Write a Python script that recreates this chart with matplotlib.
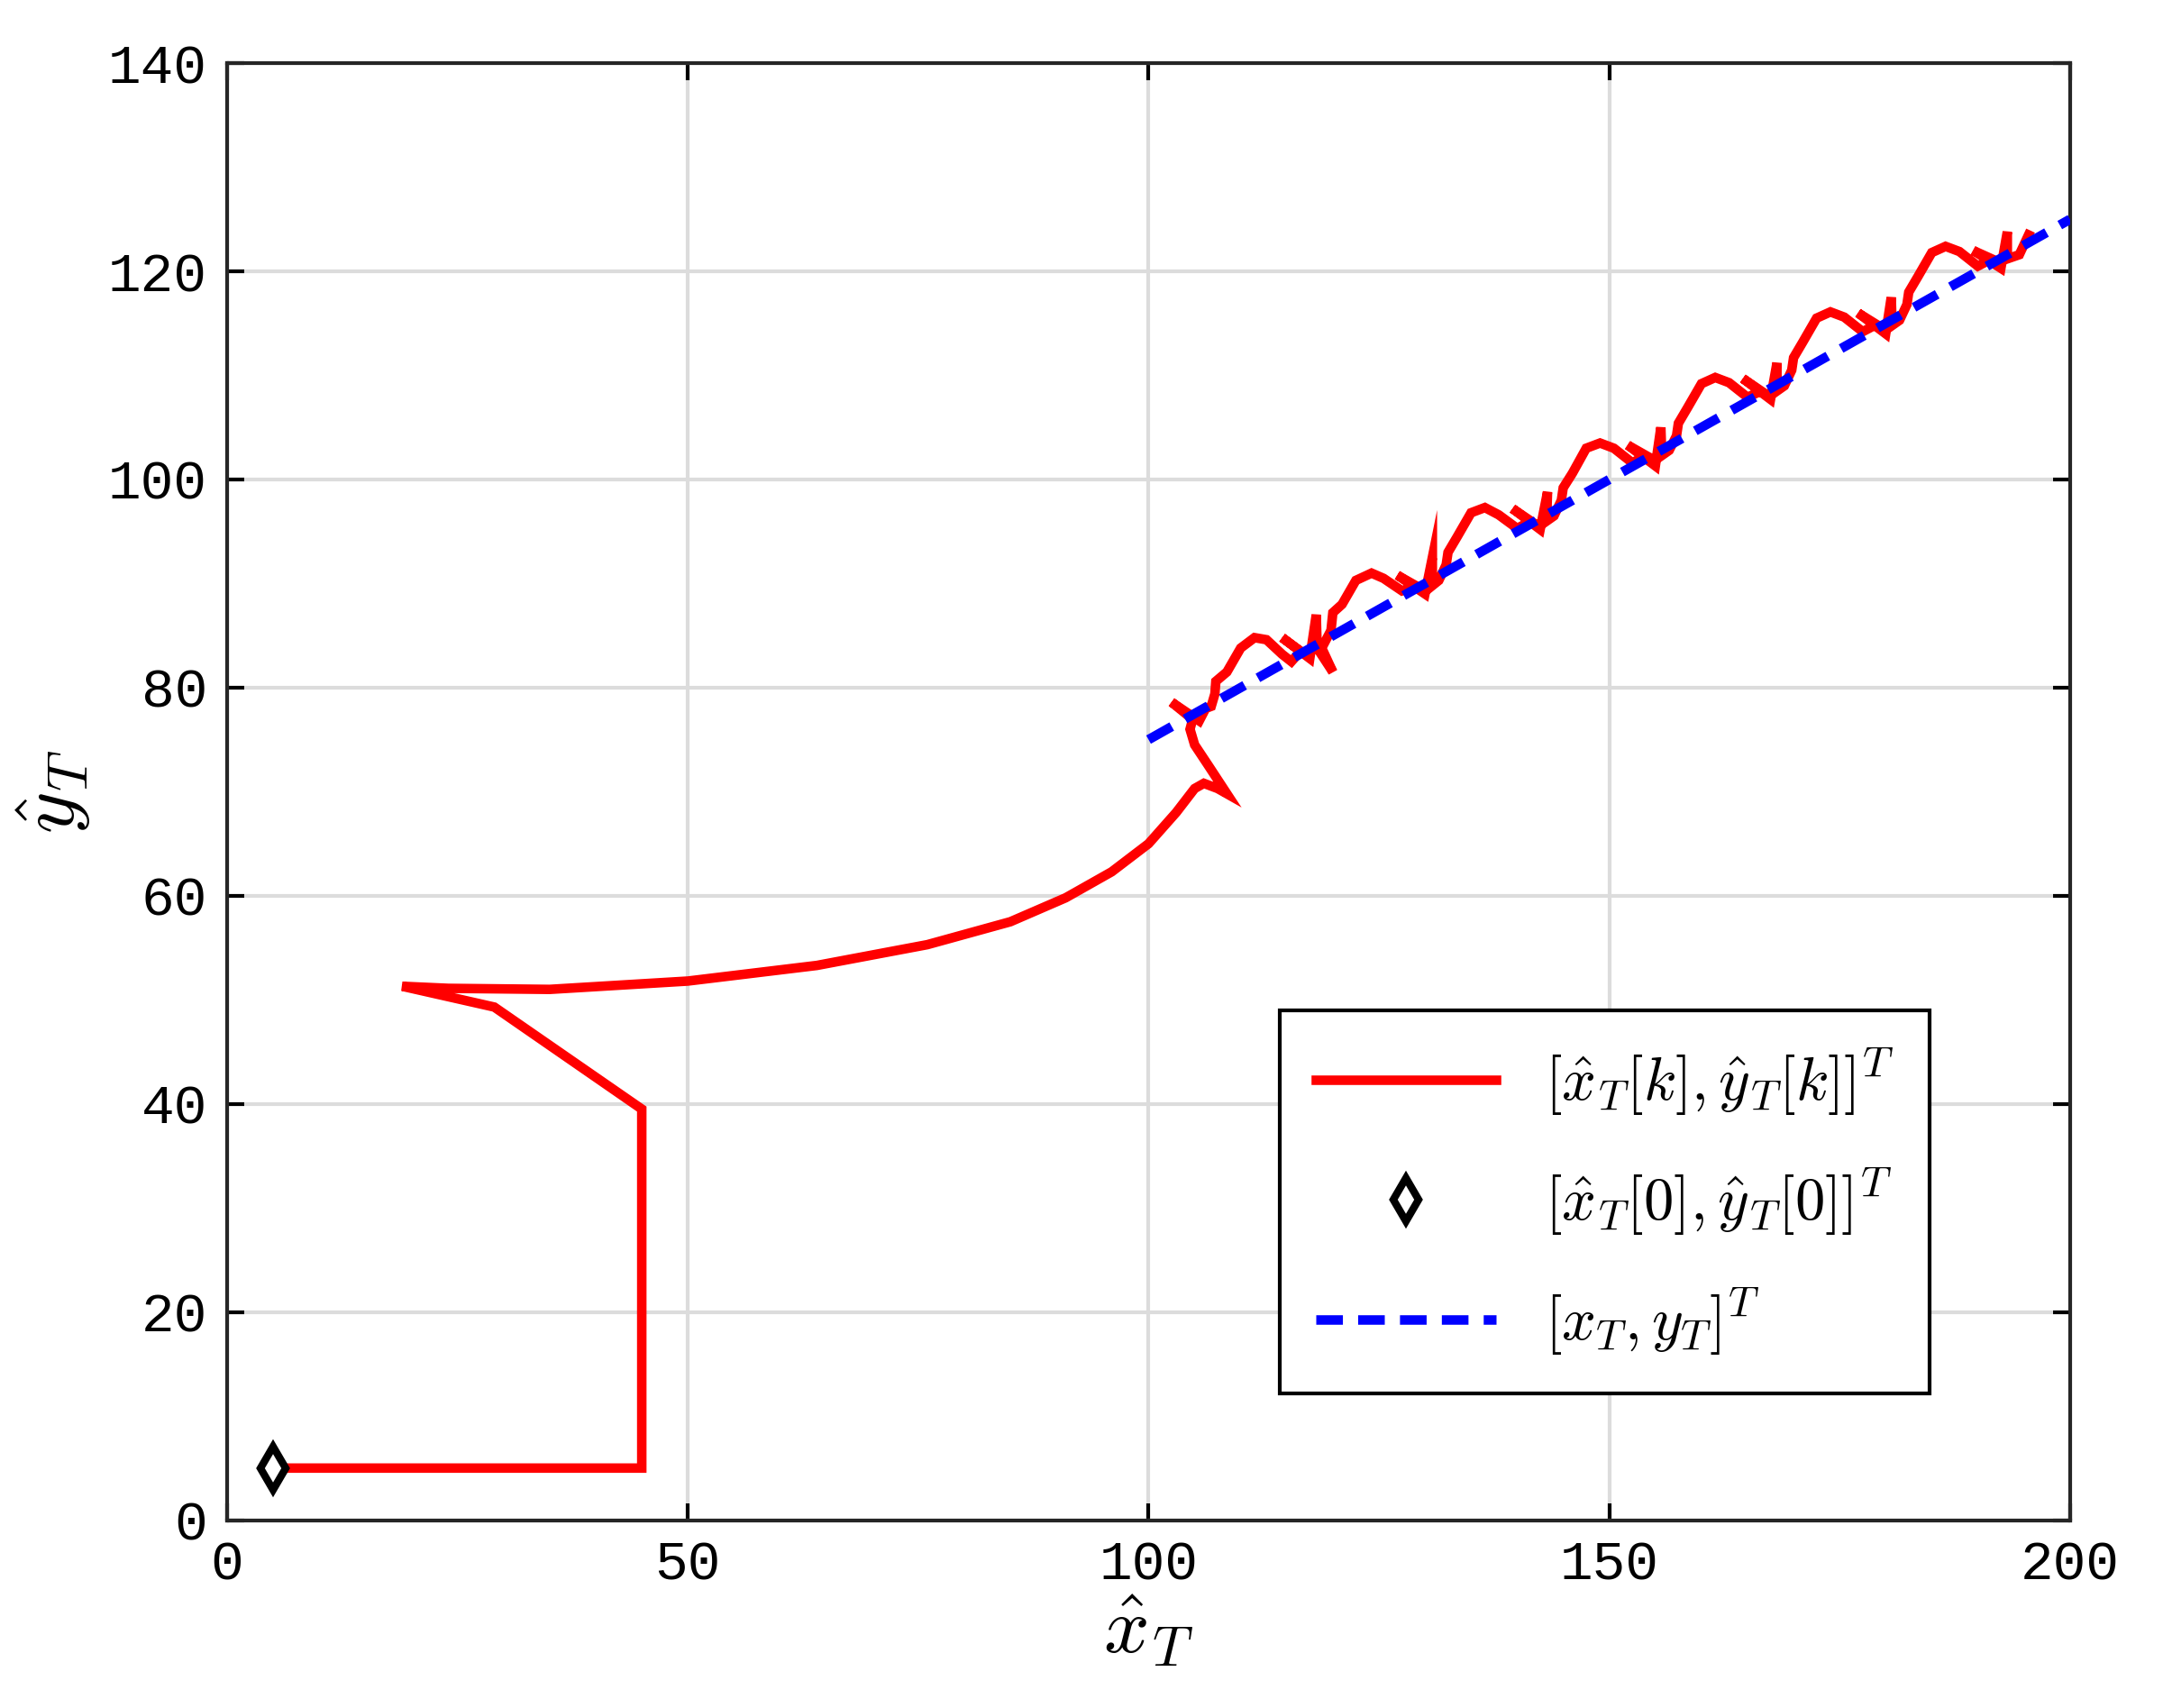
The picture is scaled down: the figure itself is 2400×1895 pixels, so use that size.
import matplotlib
matplotlib.use("Agg")
import matplotlib.pyplot as plt

plt.rcParams['mathtext.fontset'] = 'cm'

est_x = [5, 45, 45, 29, 19, 24, 35, 50, 64, 76, 85, 91, 96, 100, 103, 105, 106, 107.5, 108.5,
         106.5, 105, 104.5, 104.8,
         104.3, 102.5, 105.5, 106.2, 106.8, 107.2, 107.3, 108.5, 110, 111.5, 112.8, 114.5, 115.5,
         116.5, 114.5, 117.5, 118.2, 118.3, 120.0, 118.8, 119.8, 120.0, 121.0, 122.5, 124.2, 125.5, 127.5,
         129, 127, 130, 130.8, 130.8, 131.5, 132.3, 132.5, 133.5, 135, 136.5, 138, 140,
         141.5, 139.5, 142.5, 143.3, 143.2, 144, 144.8, 145, 146, 147.5, 149, 150.5, 152.5,
         154, 152, 155, 155.6, 155.7, 156.5, 157.3, 157.5, 158.5, 160, 161.5, 163, 165,
         166.5, 164.5, 167.5, 168.2, 168.2, 169, 169.8, 170, 171, 172.5, 174, 175.5, 177.5,
         179, 177, 180, 180.6, 180.7, 181.5, 182.3, 182.5, 183.5, 185, 186.5, 188, 190,
         191.5, 189.5, 192.5, 193.2, 193.2, 194.5, 195.5]
est_y = [5, 5, 39.5, 49.3, 51.3, 51.1, 51.0, 51.8, 53.3, 55.3, 57.5, 59.8, 62.3, 65, 68, 70.3, 70.8, 70.3, 69.8,
         72.5, 74.5, 76.0, 77.0,
         77.3, 78.6, 76.8, 78.0, 78.2, 79.4, 80.6, 81.5, 83.8, 84.8, 84.6, 83.2, 82.5,
         83.5, 84.8, 82.8, 87.0, 83.8, 81.5, 83.8, 85.5, 87.2, 88.0, 90.3, 91.0, 90.5, 89.3,
         89.8, 90.8, 89.0, 92.5, 89.8, 90.3, 91.8, 93.0, 94.5, 96.8, 97.3, 96.6, 95.3,
         96.0, 97.2, 95.2, 98.8, 96.0, 96.5, 98.0, 99.2, 100.6, 103.0, 103.5, 103.0, 101.6,
         102.3, 103.3, 101.3, 105.0, 102.3, 102.8, 104.2, 105.4, 106.9, 109.2, 109.8, 109.3, 107.9,
         108.5, 109.7, 107.7, 111.2, 108.5, 109.0, 110.5, 111.7, 113.2, 115.5, 116.1, 115.6, 114.2,
         114.9, 116.0, 114.0, 117.5, 114.8, 115.3, 116.8, 118.0, 119.5, 121.8, 122.4, 121.9, 120.5,
         121.2, 122.0, 120.3, 123.8, 121.2, 121.6, 123.5]
start_x = [5]
start_y = [5]
true_x = [100, 200]
true_y = [75, 125]

fig = plt.figure(figsize=(12, 9.475), dpi=200)
ax = fig.add_axes([0.105, 0.110, 0.852, 0.853])
ax.plot(est_x, est_y, color='red', lw=3.8, solid_joinstyle='miter',
        label=r'$[\hat{x}_T[k],\hat{y}_T[k]]^T$', zorder=3)
ax.plot(start_x, start_y, linestyle='none', marker='d', markersize=12, mfc='white',
        mec='black', mew=3, label=r'$[\hat{x}_T[0],\hat{y}_T[0]]^T$', zorder=4)
ax.plot(true_x, true_y, color='blue', lw=3.8, linestyle=(0, (2.8, 1.6)),
        label=r'$[x_T,y_T]^T$', zorder=3)

ax.set_xlim(0, 200)
ax.set_ylim(0, 140)
ax.set_xticks([0, 50, 100, 150, 200])
ax.set_yticks(range(0, 141, 20))
ax.grid(True, color='#dcdcdc', lw=1.5)
ax.set_axisbelow(True)
ax.tick_params(direction='in', length=7, width=1.5, top=True, right=True, pad=8)
for lab in ax.get_xticklabels() + ax.get_yticklabels():
    lab.set_family('Liberation Mono')
    lab.set_fontsize(22)
for s in ax.spines.values():
    s.set_linewidth(1.5)
    s.set_color('#262626')
ax.set_xlabel(r'$\hat{x}_T$', fontsize=32, labelpad=0)
ax.set_ylabel(r'$\hat{y}_T$', fontsize=32, labelpad=6)

leg = ax.legend(loc='lower right', bbox_to_anchor=(0.924, 0.087), borderaxespad=0,
                fontsize=24, fancybox=False, edgecolor='black', framealpha=1,
                handlelength=3.0, borderpad=0.6, labelspacing=0.8)
leg.get_frame().set_linewidth(1.5)

fig.savefig('out.png', dpi=200)
